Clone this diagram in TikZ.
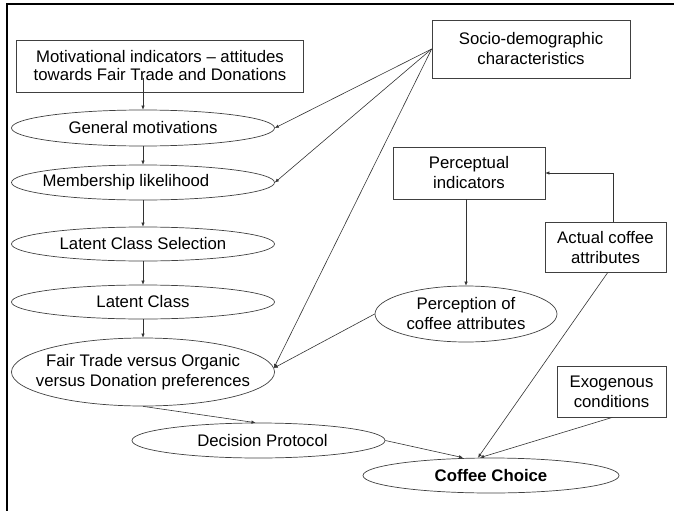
\documentclass[tikz,border=0pt]{standalone}
\usepackage{fontspec}
\setmainfont{Liberation Sans}
\usetikzlibrary{shapes.geometric,arrows.meta,calc}
\begin{document}
\begin{tikzpicture}[x=1pt,y=-1pt,
  every node/.style={font=\fontsize{16.75}{20}\selectfont, align=center, inner sep=0pt},
  boxnode/.style={draw=black!75, line width=0.7pt, rectangle},
  ellbase/.style={draw=black!75, line width=0.7pt, ellipse},
  ellnode/.style={ellbase, label={[align=center]center:#1}},
  link/.style={draw=black!80, line width=0.6pt, -{Latex[length=4pt,width=3.5pt]}}]
\useasboundingbox (0,0) rectangle (674,511);
% frame (top and left edges)
\draw[line width=1.4pt] (674,4) -- (7,4) -- (7,511);

% boxes
\node[boxnode, minimum width=287, minimum height=52,
      font=\fontsize{16.75}{18}\selectfont] (mot) at (160,66)
  {Motivational indicators -- attitudes\\towards Fair Trade and Donations};
\node[boxnode, minimum width=198, minimum height=58] (soc) at (531,49)
  {Socio-demographic\\characteristics};
\node[boxnode, minimum width=152, minimum height=52] (pin) at (469,173)
  {Perceptual\\indicators};
\node[boxnode, minimum width=121, minimum height=50] (act) at (605.5,247.5)
  {Actual coffee\\attributes};
\node[boxnode, minimum width=109, minimum height=51] (exo) at (611.5,391.5)
  {Exogenous\\conditions};

% ellipses (fixed size, text set as a centred label)
\node[ellnode={General motivations}, minimum width=263, minimum height=36] (gm) at (143,128) {};
\node[ellbase, label={[xshift=-17pt]center:Membership likelihood},
      minimum width=263, minimum height=35] (ml) at (143,182.5) {};
\node[ellnode={Latent Class Selection}, minimum width=263, minimum height=34] (lcs) at (143,244) {};
\node[ellnode={Latent Class}, minimum width=263, minimum height=34] (lc) at (143,302) {};
\node[ellnode={Fair Trade versus Organic\\versus Donation preferences},
      minimum width=263, minimum height=68] (ftp) at (143,372) {};
\node[ellnode={Perception of\\coffee attributes},
      minimum width=182, minimum height=56] (pca) at (466,314) {};
\node[ellbase, label={[xshift=4pt]center:Decision Protocol},
      minimum width=253, minimum height=35] (dp) at (258.5,440.5) {};
\node[ellnode={\bfseries Coffee Choice}, minimum width=256, minimum height=35] (cc) at (491,475.5) {};

% vertical chain on the left
\draw[link] ($(mot.south -| gm.north)+(0,-14)$) -- (gm.north);
\draw[link] (gm.south) -- (ml.north);
\draw[link] (ml.south) -- (lcs.north);
\draw[link] (lcs.south) -- (lc.north);
\draw[link] (lc.south) -- (ftp.north);

% socio-demographic influences
\draw[link] (soc.west) -- (gm.east);
\draw[link] (soc.west) -- (ml.east);
\draw[link] (soc.west) -- ($(ftp.east)+(-1,-4)$);

% perception branch
\draw[link] (pin.south -| pca.north) -- (pca.north);
\draw[link] (act.north -| 613,0) |- (pin.east);
\draw[link] (pca.west) -- ($(ftp.east)+(-1,-4)$);

% towards the choice
\draw[link] (ftp.south) -- ($(dp.north)+(-3,0)$);
\draw[link] (dp.east) -- ($(cc.north)+(-28,0)$);
\draw[link] ($(act.south)+(2,0)$) -- ($(cc.north)+(-13,0)$);
\draw[link] ($(exo.south)+(1,0)$) -- ($(cc.north)+(-11,0)$);
\end{tikzpicture}
\end{document}
